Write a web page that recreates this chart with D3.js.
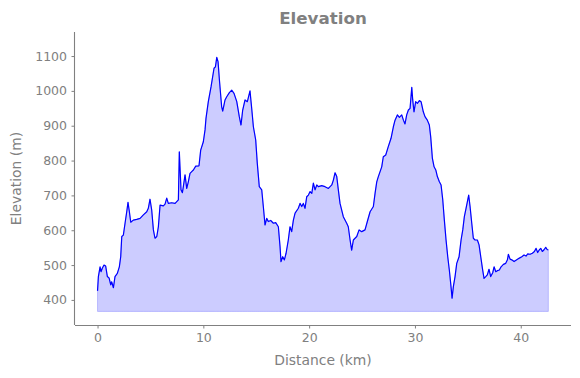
<!DOCTYPE html>
<html>
<head>
<meta charset="utf-8">
<script src="https://cdn.jsdelivr.net/npm/d3@7"></script>
<style>
  body { margin: 0; background: #fff; }
  svg { font-family: "DejaVu Sans", sans-serif; }
</style>
</head>
<body>
<svg width="580" height="378"></svg>
<script>
// distance along the route (km) and elevation (m)
var distance = [0, 0.08, 0.24, 0.33, 0.45, 0.61, 0.77, 0.93, 1.09, 1.25, 1.34, 1.5, 1.65, 1.87, 2.06, 2.19, 2.29, 2.44, 2.6, 2.76, 2.88, 3.01, 3.14, 3.38, 3.7, 4.02, 4.33, 4.65, 4.8, 4.96, 5.12, 5.28, 5.43, 5.6, 5.75, 5.91, 6.22, 6.38, 6.54, 6.69, 7.01, 7.33, 7.64, 7.73, 7.89, 8.02, 8.11, 8.27, 8.43, 8.58, 8.74, 8.9, 9.06, 9.28, 9.59, 9.75, 10.0, 10.16, 10.25, 10.47, 10.73, 11.01, 11.14, 11.27, 11.39, 11.52, 11.73, 11.83, 12.05, 12.21, 12.46, 12.68, 12.9, 13.16, 13.4, 13.56, 13.72, 13.94, 14.16, 14.41, 14.57, 14.73, 14.95, 15.1, 15.29, 15.52, 15.67, 15.83, 15.99, 16.14, 16.37, 16.62, 16.84, 17.09, 17.25, 17.34, 17.5, 17.66, 17.82, 18.03, 18.19, 18.35, 18.51, 18.67, 18.98, 19.14, 19.3, 19.45, 19.61, 19.77, 19.93, 20.09, 20.25, 20.4, 20.56, 20.72, 20.87, 21.19, 21.5, 21.82, 22.14, 22.29, 22.45, 22.61, 22.76, 22.92, 23.23, 23.55, 23.7, 23.87, 24.02, 24.18, 24.5, 24.72, 24.97, 25.28, 25.5, 25.76, 26.07, 26.23, 26.39, 26.54, 26.86, 27.01, 27.24, 27.48, 27.74, 27.96, 28.12, 28.34, 28.53, 28.75, 28.91, 29.06, 29.22, 29.38, 29.54, 29.7, 29.79, 29.91, 30.07, 30.23, 30.42, 30.58, 30.79, 30.95, 31.17, 31.36, 31.49, 31.65, 31.81, 31.97, 32.12, 32.31, 32.47, 32.63, 32.78, 32.94, 33.1, 33.25, 33.41, 33.51, 33.63, 33.79, 33.95, 34.17, 34.36, 34.52, 34.67, 34.83, 34.99, 35.08, 35.21, 35.37, 35.52, 35.68, 35.9, 36.06, 36.22, 36.4, 36.53, 36.69, 36.84, 37.0, 37.16, 37.35, 37.48, 37.64, 37.79, 37.98, 38.14, 38.36, 38.58, 38.74, 38.83, 38.99, 39.15, 39.37, 39.62, 39.87, 40.1, 40.31, 40.5, 40.66, 40.88, 41.1, 41.29, 41.45, 41.6, 41.76, 41.89, 42.04, 42.2, 42.36, 42.51, 42.61];
var elevation = [426, 467, 495, 481, 491, 500, 497, 467, 463, 443, 452, 435, 467, 476, 495, 524, 582, 586, 620, 653, 680, 653, 623, 629, 631, 634, 644, 653, 663, 689, 658, 601, 577, 582, 610, 672, 670, 675, 692, 677, 679, 677, 687, 825, 716, 708, 725, 759, 720, 739, 763, 768, 773, 784, 785, 830, 854, 888, 921, 969, 1012, 1065, 1069, 1096, 1084, 1031, 955, 942, 974, 983, 995, 1002, 993, 969, 926, 902, 945, 974, 969, 1000, 950, 897, 859, 792, 725, 716, 668, 615, 634, 625, 628, 620, 622, 610, 553, 510, 524, 515, 534, 572, 610, 596, 629, 649, 663, 677, 668, 677, 663, 696, 701, 711, 706, 735, 716, 730, 725, 728, 725, 720, 730, 744, 765, 754, 716, 677, 639, 620, 610, 572, 543, 572, 582, 601, 596, 601, 625, 653, 668, 706, 739, 754, 782, 811, 816, 840, 864, 897, 916, 931, 924, 931, 916, 905, 931, 945, 950, 1010, 974, 940, 969, 964, 972, 969, 940, 926, 916, 902, 868, 806, 782, 773, 754, 739, 730, 687, 629, 572, 524, 486, 438, 405, 438, 467, 505, 524, 572, 601, 639, 663, 687, 701, 668, 620, 577, 572, 572, 558, 524, 486, 462, 467, 472, 488, 467, 478, 495, 481, 484, 486, 495, 502, 505, 515, 531, 517, 515, 510, 515, 520, 524, 529, 526, 532, 531, 534, 539, 548, 536, 544, 548, 539, 544, 551, 544, 544];
var fillBase = 367;
var xTicks = [0, 10, 20, 30, 40];
var yTicks = [400, 500, 600, 700, 800, 900, 1000, 1100];

var width = 580, height = 378;
var margin = {top: 32, right: 9, bottom: 53, left: 75};
var grey = '#808080';

var svg = d3.select('svg');

var x = d3.scaleLinear().domain([-2.13, 44.75]).range([margin.left, width - margin.right]);
var y = d3.scaleLinear().domain([328, 1169]).range([height - margin.bottom, margin.top]);

var points = distance.map(function(d, i) { return [d, elevation[i]]; });

var area = d3.area()
  .x(d => x(d[0]))
  .y0(y(fillBase))
  .y1(d => y(d[1]));

var line = d3.line()
  .x(d => x(d[0]))
  .y(d => y(d[1]));

svg.append('path')
  .datum(points)
  .attr('d', area)
  .attr('fill', 'rgba(0,0,255,0.2)')
  .attr('stroke', 'rgba(0,0,255,0.2)')
  .attr('stroke-width', 1);

svg.append('path')
  .datum(points)
  .attr('d', line)
  .attr('fill', 'none')
  .attr('stroke', '#0000ff')
  .attr('stroke-width', 1.2)
  .attr('stroke-linejoin', 'round');

var xAxis = svg.append('g')
  .attr('transform', 'translate(0,' + (height - margin.bottom) + ')')
  .call(d3.axisBottom(x).tickValues(xTicks).tickSize(3.5).tickPadding(4.5).tickFormat(d3.format('d')));

var yAxis = svg.append('g')
  .attr('transform', 'translate(' + margin.left + ',0)')
  .call(d3.axisLeft(y).tickValues(yTicks).tickSize(3.5).tickPadding(4.5).tickFormat(d3.format('d')));

[xAxis, yAxis].forEach(function(g) {
  g.select('.domain').attr('stroke', grey).attr('stroke-width', 1.1)
    .attr('d', g === xAxis ? 'M' + margin.left + ',0.5H' + (width - margin.right)
                           : 'M-0.5,' + margin.top + 'V' + (height - margin.bottom));
  g.selectAll('.tick line').attr('stroke', grey).attr('stroke-width', 1);
  g.selectAll('.tick text').attr('fill', grey).style('font-size', '12.5px').style('font-family', 'DejaVu Sans');
});

svg.append('text')
  .attr('x', (margin.left + width - margin.right) / 2)
  .attr('y', 365)
  .attr('text-anchor', 'middle')
  .attr('fill', grey)
  .style('font-size', '13.9px')
  .text('Distance (km)');

svg.append('text')
  .attr('transform', 'translate(21,' + ((margin.top + height - margin.bottom) / 2) + ') rotate(-90)')
  .attr('text-anchor', 'middle')
  .attr('fill', grey)
  .style('font-size', '13.9px')
  .text('Elevation (m)');

svg.append('text')
  .attr('x', (margin.left + width - margin.right) / 2)
  .attr('y', 24)
  .attr('text-anchor', 'middle')
  .attr('fill', grey)
  .style('font-size', '16.7px')
  .style('font-weight', 'bold')
  .text('Elevation');
</script>
</body>
</html>
